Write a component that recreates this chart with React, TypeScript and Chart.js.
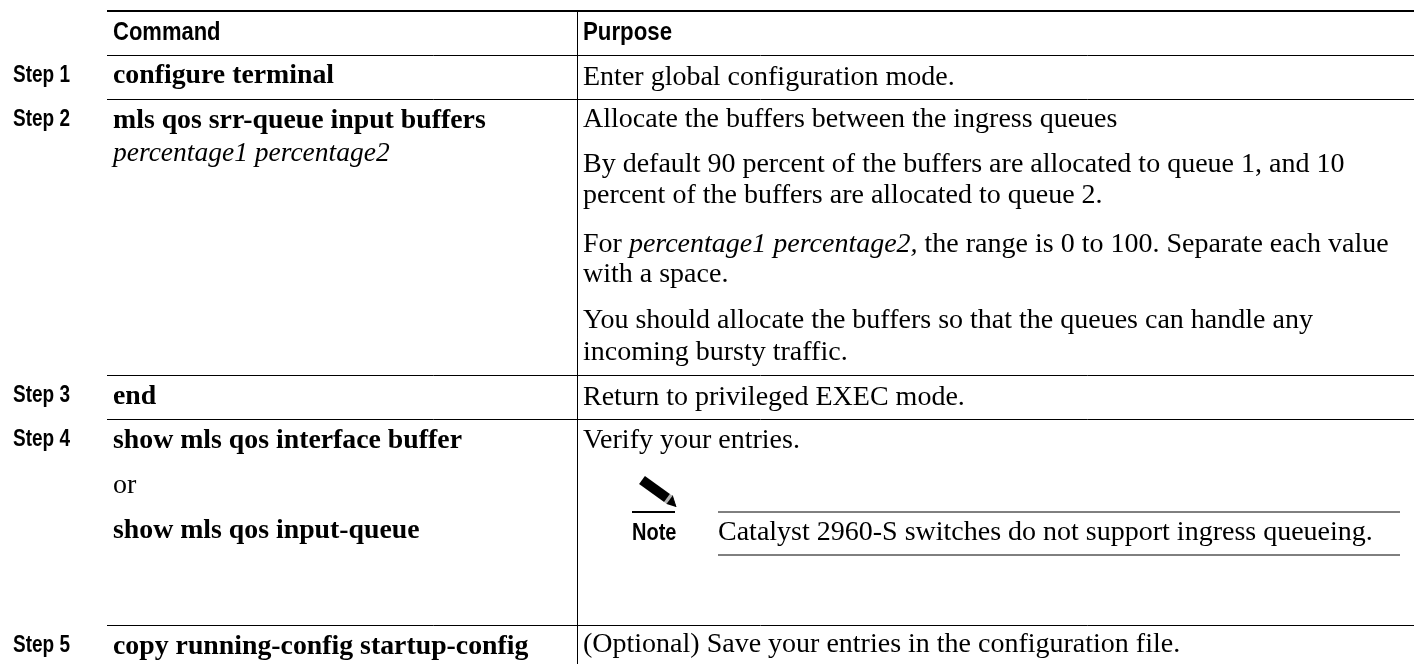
import React, { useEffect, useRef } from "react";
import { Chart, registerables } from "chart.js";

Chart.register(...registerables);

const WIDTH = 1414;
const HEIGHT = 664;

// Table text
const headers = ["Command", "Purpose"];
const stepLabels = ["Step 1", "Step 2", "Step 3", "Step 4", "Step 5"];
const commandBold = [
  "configure terminal",
  "mls qos srr-queue input buffers",
  "end",
  "show mls qos interface buffer",
  "show mls qos input-queue",
  "copy running-config startup-config",
];
const commandItalic = ["percentage1 percentage2"];
const commandPlain = ["or"];
const purposeLines = [
  "Enter global configuration mode.",
  "Allocate the buffers between the ingress queues",
  "By default 90 percent of the buffers are allocated to queue 1, and 10",
  "percent of the buffers are allocated to queue 2.",
  "with a space.",
  "You should allocate the buffers so that the queues can handle any",
  "incoming bursty traffic.",
  "Return to privileged EXEC mode.",
  "Verify your entries.",
  "(Optional) Save your entries in the configuration file.",
];
const mixedLine = ["For ", "percentage1 percentage2,", " the range is 0 to 100. Separate each value"];
const noteLabel = "Note";
const noteText = "Catalyst 2960-S switches do not support ingress queueing.";

// Layout, on a page-unit scale
const headerY = [40, 40];
const stepY = [82, 126, 402, 446, 652];
const commandBoldY = [83, 128, 404, 448, 538, 654];
const purposeY = [85, 127, 172, 203, 282, 328, 360, 405, 448, 652];
const fullRules = [55.5, 99.5, 375.5, 419.5, 625.5];

const SANS = '"Liberation Sans", sans-serif';
const SERIF = '"Liberation Serif", serif';

const tablePlugin = {
  id: "tableText",
  afterDatasetsDraw(chart: any) {
    const { ctx, scales } = chart;
    const px = (v: number) => scales.x.getPixelForValue(v);
    const py = (v: number) => scales.y.getPixelForValue(v);
    const put = (t: string, x: number, y: number, font: string, sx = 1) => {
      ctx.save();
      ctx.font = font;
      ctx.translate(px(x), py(y));
      ctx.scale(sx, 1);
      ctx.fillText(t, 0, 0);
      const w = ctx.measureText(t).width * sx;
      ctx.restore();
      return w;
    };
    ctx.save();
    ctx.fillStyle = "#000";
    ctx.textBaseline = "alphabetic";
    ctx.textAlign = "left";
    const hFont = `bold 25px ${SANS}`;
    put(headers[0], 113, headerY[0], hFont, 0.88);
    put(headers[1], 583, headerY[1], hFont, 0.89);
    stepLabels.forEach((s, i) => put(s, 13, stepY[i], `bold 23px ${SANS}`, 0.825));
    const bFont = `bold 27.8px ${SERIF}`;
    commandBold.forEach((s, i) => put(s, 113, commandBoldY[i], bFont));
    put(commandItalic[0], 113, 161, `italic 27.5px ${SERIF}`);
    const pFont = `28px ${SERIF}`;
    put(commandPlain[0], 113, 493, pFont);
    purposeLines.forEach((s, i) => put(s, 583, purposeY[i], pFont));
    let x = 583;
    mixedLine.forEach((s, i) => {
      x += put(s, x, 252, i === 1 ? `italic 28px ${SERIF}` : pFont);
    });
    put(noteLabel, 632, 540, `bold 23px ${SANS}`, 0.87);
    put(noteText, 718, 540, pFont);
    ctx.restore();
  },
};

const rule = (pts: number[][], width: number, color = "#000", extra: any = {}) => ({
  data: pts.map(([x, y]) => ({ x, y })),
  showLine: true,
  borderColor: color,
  borderWidth: width,
  pointRadius: 0,
  tension: 0,
  ...extra,
});

export default function App() {
  const ref = useRef<HTMLCanvasElement>(null);
  useEffect(() => {
    const chart = new Chart(ref.current as HTMLCanvasElement, {
      type: "scatter",
      data: {
        datasets: [
          rule([[107, 11], [WIDTH, 11]], 2),
          ...fullRules.map((y) => rule([[107, y], [WIDTH, y]], 1)),
          rule([[577.5, 11], [577.5, HEIGHT]], 1),
          rule([[718, 512], [1400, 512]], 1),
          rule([[718, 555], [1400, 555]], 1),
          rule([[632, 512], [675, 512]], 2),
          rule([[642, 480], [667, 498]], 10),
          rule([[650, 486], [665, 496.6]], 6.5, "#d8d8d8"),
          rule([[650, 486], [665, 496.6]], 2.5, "#606060"),
          rule([[667, 498], [669.5, 499.8]], 10, "#b0b0b0"),
          rule([[666.6, 503.9], [672.4, 495.7], [676, 507]], 1, "#000", { fill: "shape", backgroundColor: "#000" }),
        ] as any,
      },
      options: {
        animation: false,
        responsive: false,
        layout: { padding: 0 },
        plugins: { legend: { display: false }, tooltip: { enabled: false } },
        scales: {
          x: { type: "linear", min: 0, max: WIDTH, display: false },
          y: { type: "linear", min: 0, max: HEIGHT, reverse: true, display: false },
        },
      },
      plugins: [tablePlugin],
    } as any);
    return () => chart.destroy();
  }, []);
  return (
    <div style={{ position: "absolute", left: 0, top: 0, width: WIDTH, height: HEIGHT, background: "#fff" }}>
      <canvas ref={ref} width={WIDTH} height={HEIGHT} style={{ display: "block" }} />
    </div>
  );
}
